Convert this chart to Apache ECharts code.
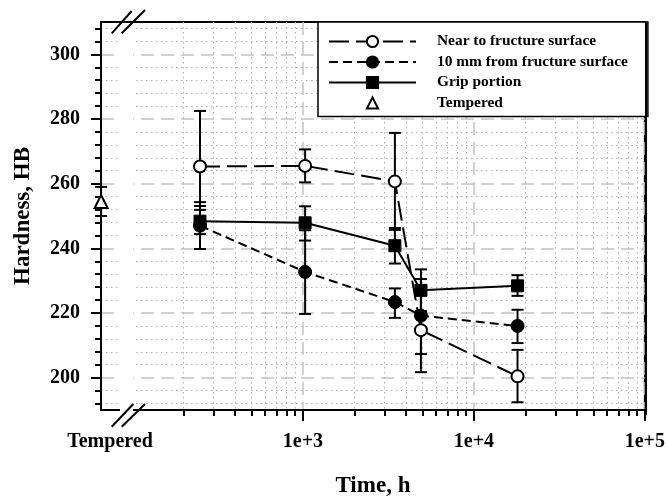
<!DOCTYPE html>
<html>
<head>
<meta charset="utf-8">
<script src="https://cdn.jsdelivr.net/npm/echarts@6/dist/echarts.min.js"></script>
<style>
  html, body { margin: 0; padding: 0; background: #fff; }
  #chart { width: 668px; height: 503px; }
</style>
</head>
<body>
<div id="chart"></div>
<script>
// time in hours, hardness in HB
const times = [250, 1030, 3450, 4900, 18000]

const nearVal = [265.3, 265.5, 260.7, 214.7, 200.4]
const nearHi = [282.5, 270.6, 275.7, 227.6, 208.6]
const nearLo = [251.9, 260.4, 245.7, 201.7, 192.4]

const mmVal = [247.0, 232.7, 223.4, 219.2, 216.0]
const mmHi = [253.1, 245.6, 227.6, 230.5, 221.0]
const mmLo = [239.8, 219.7, 218.5, 207.3, 210.7]

const gripVal = [248.4, 247.9, 240.8, 227.0, 228.4]
const gripHi = [254.3, 253.0, 246.3, 233.5, 231.7]
const gripLo = [244.4, 242.4, 235.3, 220.6, 225.3]

const temperedX = 66
const temperedVal = 254.5
const temperedHi = 259.0
const temperedLo = 250.0

const xMin = 65.9
const xMax = 100000
const xLabelVals = [74.4, 1000, 10000, 100000]
const xMajor = [1000, 10000, 100000]
const xMinor = [200, 300, 400, 500, 600, 700, 800, 900,
    2000, 3000, 4000, 5000, 6000, 7000, 8000, 9000,
    20000, 30000, 40000, 50000, 60000, 70000, 80000, 90000]
const yMajor = [200, 220, 240, 260, 280, 300]
const yMinor = [192, 196, 204, 208, 212, 216, 224, 228, 232, 236, 244, 248, 252, 256,
    264, 268, 272, 276, 284, 288, 292, 296, 304, 308]

const serif = "'Liberation Serif', 'Times New Roman', serif"

const pairs = (ys) => times.map((t, i) => [t, ys[i]])

const errData = []
times.forEach((t, i) => {
    errData.push([t, nearLo[i], nearHi[i]])
    errData.push([t, mmLo[i], mmHi[i]])
    errData.push([t, gripLo[i], gripHi[i]])
})
errData.push([temperedX, temperedLo, temperedHi])

const chart = echarts.init(document.getElementById('chart'))

const xBase = {
    type: 'log',
    logBase: 10,
    min: xMin,
    max: xMax,
    gridIndex: 0,
    position: 'bottom'
}
const yBase = {
    type: 'value',
    min: 190,
    max: 310,
    position: 'left'
}
const blk = { stroke: '#000', lineWidth: 2 }

const option = {
    backgroundColor: '#fff',
    animation: false,
    grid: {
        left: 101,
        right: 22,
        top: 22,
        bottom: 88,
        show: true,
        borderColor: '#000',
        borderWidth: 2
    },
    xAxis: [
        Object.assign({}, xBase, {
            name: 'Time, h',
            nameLocation: 'middle',
            nameGap: 65,
            nameTextStyle: { fontFamily: serif, fontWeight: 'bold', fontSize: 23, color: '#000' },
            axisLine: { show: true, lineStyle: { color: '#000', width: 2 } },
            axisTick: { show: true, customValues: xMajor, length: 11, lineStyle: { color: '#000', width: 2 } },
            axisLabel: {
                customValues: xLabelVals,
                margin: 22,
                fontFamily: serif,
                fontWeight: 'bold',
                fontSize: 20,
                color: '#000',
                formatter: v => v < 100 ? 'Tempered' : '1e+' + Math.round(Math.log10(v))
            },
            splitLine: { show: true, lineStyle: { color: '#c4c4c4', type: [13, 7], width: 1.5 } }
        }),
        Object.assign({}, xBase, {
            axisLine: { show: false },
            axisTick: { show: true, customValues: xMinor, length: 6, lineStyle: { color: '#000', width: 2 } },
            axisLabel: { show: false },
            splitLine: { show: true, lineStyle: { color: '#b0b0b0', type: [1.5, 3.5], width: 1 } }
        })
    ],
    yAxis: [
        Object.assign({}, yBase, {
            name: 'Hardness, HB',
            nameLocation: 'middle',
            nameGap: 66,
            nameTextStyle: { fontFamily: serif, fontWeight: 'bold', fontSize: 23, color: '#000' },
            axisLine: { show: true, lineStyle: { color: '#000', width: 2 } },
            axisTick: { show: true, customValues: yMajor, length: 10, lineStyle: { color: '#000', width: 2 } },
            axisLabel: {
                customValues: yMajor,
                margin: 21,
                fontFamily: serif,
                fontWeight: 'bold',
                fontSize: 20,
                color: '#000'
            },
            splitLine: { show: true, lineStyle: { color: '#c4c4c4', type: [13, 7], width: 1.5 } }
        }),
        Object.assign({}, yBase, {
            axisLine: { show: false },
            axisTick: { show: true, customValues: yMinor, length: 6, lineStyle: { color: '#000', width: 2 } },
            axisLabel: { show: false },
            splitLine: { show: true, lineStyle: { color: '#b0b0b0', type: [1.5, 3.5], width: 1 } }
        })
    ],
    legend: {
        orient: 'vertical',
        left: 318,
        top: 22,
        padding: [12, 20, 6, 10],
        itemWidth: 87,
        itemHeight: 14,
        itemGap: 5.5,
        backgroundColor: '#fff',
        borderColor: '#000',
        borderWidth: 1.5,
        data: ['Near to fructure surface', '10 mm from fructure surface', 'Grip portion', 'Tempered'],
        textStyle: {
            fontFamily: serif,
            fontWeight: 'bold',
            fontSize: 15.4,
            lineHeight: 14,
            color: '#000',
            padding: [0, 0, 0, 16]
        }
    },
    graphic: [
        // gap in the grid next to the axis break
        { type: 'rect', left: 120, top: 24, shape: { width: 13, height: 389 }, style: { fill: '#fff' }, z: 1 },
        // right frame over the 1e+5 grid line
        { type: 'line', shape: { x1: 646, y1: 22, x2: 646, y2: 415 }, style: blk, z: 5 },
        { type: 'line', shape: { x1: 111.7, y1: 33.3, x2: 131.7, y2: 11 }, style: blk, z: 5 },
        { type: 'line', shape: { x1: 121.7, y1: 33.3, x2: 145, y2: 10 }, style: blk, z: 5 },
        { type: 'line', shape: { x1: 111.7, y1: 426.7, x2: 133.3, y2: 404 }, style: blk, z: 5 },
        { type: 'line', shape: { x1: 121.7, y1: 426.7, x2: 145, y2: 404 }, style: blk, z: 5 }
    ],
    series: [
        {
            type: 'custom',
            name: 'err',
            data: errData,
            z: 3,
            silent: true,
            renderItem: (params, api) => {
                const top = api.coord([api.value(0), api.value(2)])
                const bot = api.coord([api.value(0), api.value(1)])
                const w = 6
                return {
                    type: 'group',
                    children: [
                        { type: 'line', shape: { x1: top[0], y1: top[1], x2: bot[0], y2: bot[1] }, style: blk },
                        { type: 'line', shape: { x1: top[0] - w, y1: top[1], x2: top[0] + w, y2: top[1] }, style: blk },
                        { type: 'line', shape: { x1: bot[0] - w, y1: bot[1], x2: bot[0] + w, y2: bot[1] }, style: blk }
                    ]
                }
            }
        },
        {
            type: 'line',
            name: 'Near to fructure surface',
            data: pairs(nearVal),
            z: 4,
            symbol: 'circle',
            symbolSize: 12,
            lineStyle: { color: '#000', width: 2, type: [20, 7] },
            itemStyle: { color: '#fff', borderColor: '#000', borderWidth: 2 }
        },
        {
            type: 'line',
            name: '10 mm from fructure surface',
            data: pairs(mmVal),
            z: 4,
            symbol: 'circle',
            symbolSize: 13,
            lineStyle: { color: '#000', width: 2, type: [9, 5] },
            itemStyle: { color: '#000', borderColor: '#000', borderWidth: 1 }
        },
        {
            type: 'line',
            name: 'Grip portion',
            data: pairs(gripVal),
            z: 4,
            symbol: 'rect',
            symbolSize: 12,
            lineStyle: { color: '#000', width: 2, type: 'solid' },
            itemStyle: { color: '#000', borderColor: '#000', borderWidth: 1 }
        },
        {
            type: 'line',
            name: 'Tempered',
            data: [[temperedX, temperedVal]],
            z: 4,
            symbol: 'triangle',
            symbolSize: 13,
            lineStyle: { opacity: 0 },
            itemStyle: { color: '#fff', borderColor: '#000', borderWidth: 2 }
        }
    ]
}

chart.setOption(option)
</script>
</body>
</html>
